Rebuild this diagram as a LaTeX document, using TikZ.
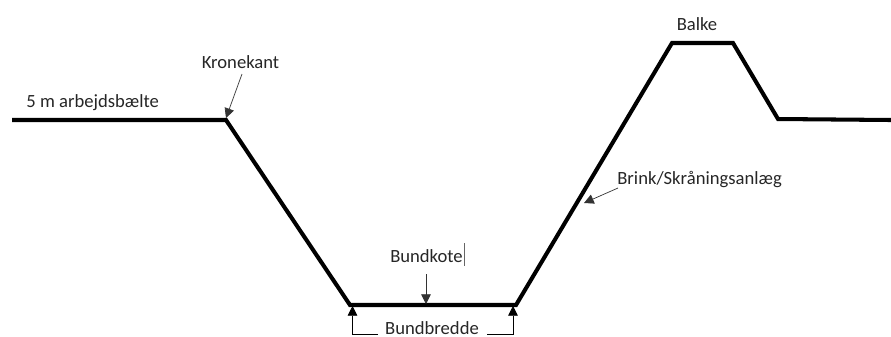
\documentclass[tikz,border=0pt]{standalone}
\usepackage{fontspec}
\setmainfont{Carlito}
\usetikzlibrary{arrows.meta}
\tikzset{
  profile/.style={line width=2.3pt, black, line join=miter},
  callout/.style={-{Triangle[length=5.5pt,width=5.5pt]}, line width=0.4pt, black!80},
  lbl/.style={inner sep=0pt, font=\fontsize{10.6}{12}\selectfont, text=black!85}
}
\begin{document}
\begin{tikzpicture}[x=0.02cm,y=-0.02cm]
  \clip (0,0) rectangle (891,336);

  \coordinate (startL) at (12,120);
  \coordinate (krone) at (226,120);
  \coordinate (bundL) at (350,305);
  \coordinate (bundR) at (516,305);
  \coordinate (balkeL) at (672,43);
  \coordinate (balkeR) at (733,43);
  \coordinate (fod) at (778,119);
  \coordinate (endR) at (891,120);
  \draw[profile] (startL) -- (krone) -- (bundL) -- (bundR) -- (balkeL) -- (balkeR) -- (fod) -- (endR);

  \node[lbl,anchor=base west] (arb) at (26,107) {5 m arbejdsbælte};
  \node[lbl,anchor=base] (kro) at (240.5,68) {Kronekant};
  \node[lbl,anchor=base] (bal) at (697,30) {Balke};
  \node[lbl,anchor=base west] (bri) at (617,184) {Brink/Skråningsanlæg};
  \node[lbl,anchor=base] (kot) at (426.5,262) {Bundkote};
  \node[lbl,anchor=base] (bre) at (432,334) {Bundbredde};

  % markoer efter Bundkote
  \coordinate (mark1) at (464,243);
  \coordinate (mark2) at (464,266);
  \draw[line width=0.3pt, black!60] (mark1) -- (mark2);

  \coordinate (kroTail) at (242,74);
  \coordinate (kroTip) at (226,118);
  \coordinate (briTail) at (618,188);
  \coordinate (briTip) at (584,203);
  \coordinate (kotTail) at (426,274);
  \coordinate (kotTip) at (426,304);
  \draw[callout] (kroTail) -- (kroTip);
  \draw[callout] (briTail) -- (briTip);
  \draw[callout] (kotTail) -- (kotTip);

  \coordinate (breL) at (378,334);
  \coordinate (breLc) at (352.5,334);
  \coordinate (breLt) at (352.5,306);
  \coordinate (breR) at (487,334);
  \coordinate (breRc) at (513,334);
  \coordinate (breRt) at (513,306);
  \draw[callout,black] (breL) -- (breLc) -- (breLt);
  \draw[callout,black] (breR) -- (breRc) -- (breRt);
\end{tikzpicture}
\end{document}
